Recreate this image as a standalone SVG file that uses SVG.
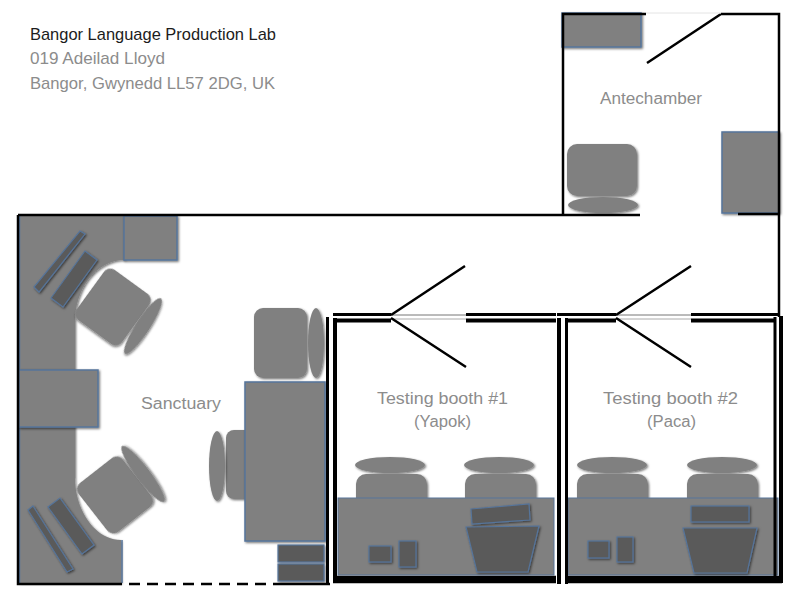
<svg xmlns="http://www.w3.org/2000/svg" width="800" height="600" viewBox="0 0 800 600">
<defs>
<filter id="sh" x="-20%" y="-20%" width="150%" height="150%"><feDropShadow dx="1.2" dy="1.2" stdDeviation="1" flood-color="#000" flood-opacity="0.55"/></filter>
</defs>
<style>
.f{fill:#808080;stroke:#56749a;stroke-width:1.5;filter:url(#sh)}
.d{fill:#5a5a5a;stroke:#56749a;stroke-width:1.2;filter:url(#sh)}
.c{fill:#808080;filter:url(#sh)}
.w{fill:none;stroke:#000;stroke-linecap:butt}
.t{font-family:"Liberation Sans",Arial,sans-serif;font-size:16px;fill:#8c8c8c;font-weight:normal}
.h{font-family:"Liberation Sans",Arial,sans-serif;font-size:17px;fill:#1c1c1c}
</style>
<rect width="800" height="600" fill="#fff"/>

<g id="sanctuary">
<path d="M19,216H125V260C95,260 75,290 75,322V478C75,510 95,540 121,540V583H19Z" fill="#808080" filter="url(#sh)"/>
<path d="M19.500,216V583M122,540V583" fill="none" stroke="#56749a" stroke-width="1.500"/>
<rect class="f" x="124" y="216" width="53" height="44"/>
<rect class="f" x="19" y="370" width="79" height="57"/>
<polygon class="d" points="80,231 85,234 39,292 34,287"/>
<polygon class="d" points="85,251 97,260 63,307 51,298"/>
<polygon class="d" points="33,506 73,569 67,572 28,510"/>
<polygon class="d" points="60,498 94,545 82,554 48,507"/>
<rect class="c" x="85" y="276" width="56" height="62" rx="8" transform="rotate(36 113 307)"/>
<ellipse class="c" cx="143" cy="326" rx="7" ry="33" transform="rotate(33 143 326)"/>
<rect class="c" x="87" y="464" width="56" height="62" rx="8" transform="rotate(-38 115 495)"/>
<ellipse class="c" cx="143" cy="474" rx="7" ry="35" transform="rotate(-37 143 474)"/>
<rect class="c" x="254" y="308" width="53" height="70" rx="9"/>
<ellipse class="c" cx="316" cy="343" rx="8" ry="35"/>
<rect class="c" x="226" y="430" width="30" height="69" rx="8"/>
<ellipse class="c" cx="217" cy="466" rx="8" ry="35"/>
<rect class="f" x="245" y="382" width="80" height="159"/>
<rect class="d" x="278" y="545" width="46" height="17"/>
<rect class="d" x="278" y="564" width="46" height="17"/>
<text class="t" x="141" y="409" textLength="80" lengthAdjust="spacingAndGlyphs">Sanctuary</text>
</g>

<g id="antechamber">
<rect class="f" x="562" y="13" width="79" height="34"/>
<rect class="f" x="722" y="132" width="57" height="81"/>
<rect class="c" x="567" y="144" width="70" height="52" rx="10"/>
<ellipse class="c" cx="603" cy="205" rx="35" ry="8"/>
<text class="t" x="600" y="104" textLength="102" lengthAdjust="spacingAndGlyphs">Antechamber</text>
</g>

<g id="booth1">
<ellipse class="c" cx="390" cy="465" rx="35" ry="8"/>
<ellipse class="c" cx="499" cy="465" rx="35" ry="8"/>
<rect class="c" x="356" y="474" width="71" height="40" rx="10"/>
<rect class="c" x="465" y="474" width="71" height="40" rx="10"/>
<rect x="338" y="498" width="216" height="77" fill="#808080" stroke="#56749a" stroke-width="1"/>
<rect class="d" x="369" y="546" width="22" height="16"/>
<rect class="d" x="399" y="541" width="17" height="26"/>
<polygon class="d" points="471,509 529,504 530,520 472,524"/>
<polygon class="d" points="466,527 539,526 528,572 477,572"/>
<text class="t" x="377" y="404" textLength="131" lengthAdjust="spacingAndGlyphs">Testing booth #1</text>
<text class="t" x="414" y="427" textLength="57" lengthAdjust="spacingAndGlyphs">(Yapok)</text>
</g>

<g id="booth2">
<ellipse class="c" cx="612" cy="465" rx="35" ry="8"/>
<ellipse class="c" cx="722" cy="465" rx="35" ry="8"/>
<rect class="c" x="577" y="474" width="71" height="40" rx="10"/>
<rect class="c" x="687" y="474" width="71" height="40" rx="10"/>
<rect x="568" y="498" width="210" height="77" fill="#808080" stroke="#56749a" stroke-width="1"/>
<rect class="d" x="588" y="541" width="21" height="17"/>
<rect class="d" x="617" y="537" width="16" height="25"/>
<rect class="d" x="691" y="506" width="58" height="16"/>
<polygon class="d" points="683,528 757,528 747,573 694,573"/>
<text class="t" x="603" y="404" textLength="135" lengthAdjust="spacingAndGlyphs">Testing booth #2</text>
<text class="t" x="647" y="427" textLength="49" lengthAdjust="spacingAndGlyphs">(Paca)</text>
</g>

<g id="walls">
<path class="w" stroke-width="2.500" d="M18,215H640M563,214V14H646M721,14H779V317M738,214H779M647,63L721,14"/>
<path fill="none" stroke="#e4e4e4" stroke-width="1" d="M646,13H721"/>
<path class="w" stroke-width="2.500" d="M18,215V584H122M275,584H330"/>
<path fill="none" stroke="#000" stroke-width="2.500" stroke-dasharray="11 7" stroke-dashoffset="-7" d="M122,584H275"/>
<path class="w" stroke-width="3" d="M327.500,317V584"/>
<path class="w" stroke-width="4" d="M335,318V583M559,318V584M781,316V583"/>
<path class="w" stroke-width="3" d="M566.500,318V584M775,317V583"/>
<path class="w" stroke-width="3" d="M333,314.500H391M466,314.500H556M557,314.500H616M691,314.500H780"/>
<path class="w" stroke-width="4" d="M333,320.500H391M466,320.500H556M566,320.500H616M691,320.500H775"/>
<path fill="none" stroke="#777" stroke-width="1" d="M391,315H466M616,315H691"/>
<path fill="none" stroke="#aaa" stroke-width="1" d="M391,319H466M616,319H691"/>
<path class="w" stroke-width="2.500" d="M391,315L465,266M391,318L466,367M616,315L691,266M616,318L691,367"/>
<path class="w" stroke-width="7.500" d="M333,579.500H556M566,579.500H782"/>
</g>

<g id="address">
<text class="h" x="30" y="40" textLength="246" lengthAdjust="spacingAndGlyphs">Bangor Language Production Lab</text>
<text class="t" x="30" y="64" style="font-size:17px" textLength="135" lengthAdjust="spacingAndGlyphs">019 Adeilad Lloyd</text>
<text class="t" x="30" y="89" style="font-size:17px" textLength="245" lengthAdjust="spacingAndGlyphs">Bangor, Gwynedd LL57 2DG, UK</text>
</g>
</svg>
